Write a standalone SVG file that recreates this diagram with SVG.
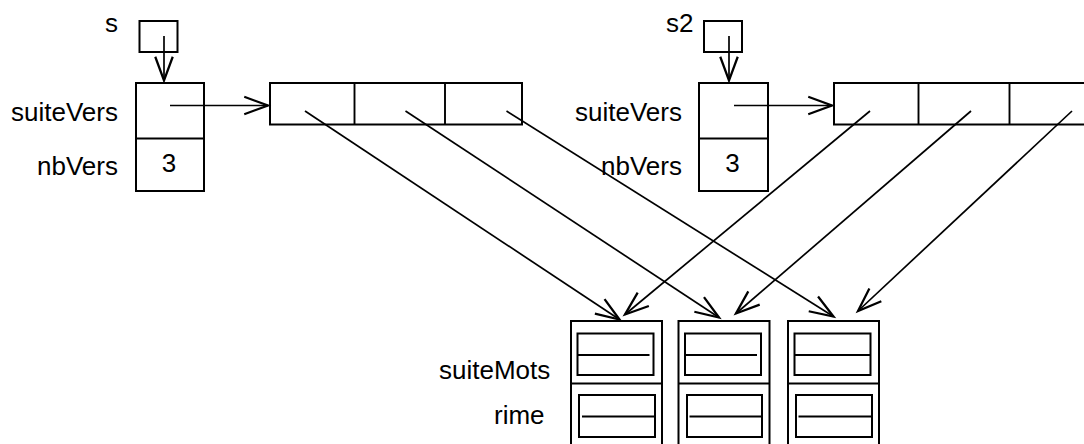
<svg xmlns="http://www.w3.org/2000/svg" width="1084" height="444" viewBox="0 0 1084 444">
<style>
.box{fill:none;stroke:#000;stroke-width:2}
.ln{fill:none;stroke:#000;stroke-width:1.9}
.ar{fill:none;stroke:#000;stroke-width:1.7;marker-end:url(#v)}
text{font-family:"Liberation Sans",Arial,Helvetica,sans-serif;font-size:26px;fill:#000}
.r{text-anchor:end}
.m{text-anchor:middle}
</style>
<defs>
<marker id="v" markerUnits="userSpaceOnUse" markerWidth="30" markerHeight="30" refX="0" refY="0" viewBox="-22 -10 24 20" orient="auto" overflow="visible">
<path d="M-19,-7 L0,0 L-19,7" fill="none" stroke="#000" stroke-width="1.8"/>
</marker>
</defs>
<rect width="1084" height="444" fill="#fff"/>
<g id="var-s">
<text x="105" y="32">s</text>
<rect class="box" x="139.5" y="21" width="38" height="31"/>
</g>
<g id="var-s2">
<text x="666" y="32">s2</text>
<rect class="box" x="704" y="21" width="38" height="31"/>
</g>
<g id="struct-s">
<text class="r" x="118" y="120.5">suiteVers</text>
<text class="r" x="118" y="175">nbVers</text>
<rect class="box" x="136" y="83" width="68" height="108"/>
<line class="ln" x1="136" y1="138.5" x2="204" y2="138.5"/>
<text class="m" x="169" y="172">3</text>
</g>
<g id="struct-s2">
<text class="r" x="682" y="120.5">suiteVers</text>
<text class="r" x="682" y="175">nbVers</text>
<rect class="box" x="699" y="83" width="69" height="108"/>
<line class="ln" x1="699" y1="138.5" x2="768" y2="138.5"/>
<text class="m" x="732.5" y="172">3</text>
</g>
<g id="array1">
<rect class="box" x="270" y="83" width="252" height="41.5"/>
<line class="ln" x1="354.5" y1="83" x2="354.5" y2="124.5"/>
<line class="ln" x1="445" y1="83" x2="445" y2="124.5"/>
</g>
<g id="array2">
<rect class="box" x="834" y="83" width="254" height="41.5"/>
<line class="ln" x1="918.5" y1="83" x2="918.5" y2="124.5"/>
<line class="ln" x1="1009.5" y1="83" x2="1009.5" y2="124.5"/>
</g>
<g id="vers1">
<rect class="box" x="571" y="321" width="91" height="140"/>
<line class="ln" x1="571" y1="383.5" x2="662" y2="383.5"/>
<rect class="box" x="577.5" y="333.5" width="76" height="41.5"/>
<line class="ln" x1="577.5" y1="355" x2="649.5" y2="355"/>
<rect class="box" x="579" y="395" width="76" height="42"/>
<line class="ln" x1="582" y1="416.5" x2="655" y2="416.5"/>
</g>
<g id="vers2">
<rect class="box" x="678.5" y="321" width="91" height="140"/>
<line class="ln" x1="678.5" y1="383.5" x2="769.5" y2="383.5"/>
<rect class="box" x="685" y="333.5" width="76" height="41.5"/>
<line class="ln" x1="685" y1="355" x2="757" y2="355"/>
<rect class="box" x="687" y="395" width="75" height="42"/>
<line class="ln" x1="689.5" y1="416.5" x2="762" y2="416.5"/>
</g>
<g id="vers3">
<rect class="box" x="788" y="321" width="91" height="140"/>
<line class="ln" x1="788" y1="383.5" x2="879" y2="383.5"/>
<rect class="box" x="794.5" y="333.5" width="76" height="41.5"/>
<line class="ln" x1="794.5" y1="355" x2="870.5" y2="355"/>
<rect class="box" x="796" y="395" width="76" height="42"/>
<line class="ln" x1="798.5" y1="416.5" x2="872" y2="416.5"/>
</g>
<g id="labels-vers">
<text x="439" y="378.5">suiteMots</text>
<text x="494" y="423.5">rime</text>
</g>
<g id="connectors">
<line class="ar" x1="164" y1="36" x2="164" y2="80.5"/>
<line class="ar" x1="729" y1="36" x2="729" y2="80.5"/>
<line class="ar" x1="170" y1="105.5" x2="268" y2="105.5"/>
<line class="ar" x1="734" y1="105.5" x2="832" y2="105.5"/>
<line class="ar" x1="305" y1="111" x2="619.5" y2="319.5"/>
<line class="ar" x1="405.5" y1="111" x2="719" y2="317.5"/>
<line class="ar" x1="506.5" y1="111" x2="833.5" y2="316.5"/>
<line class="ar" x1="870" y1="111" x2="625" y2="314.5"/>
<line class="ar" x1="971" y1="111" x2="736" y2="313.5"/>
<line class="ar" x1="1072" y1="111" x2="858" y2="311"/>
</g>
</svg>
